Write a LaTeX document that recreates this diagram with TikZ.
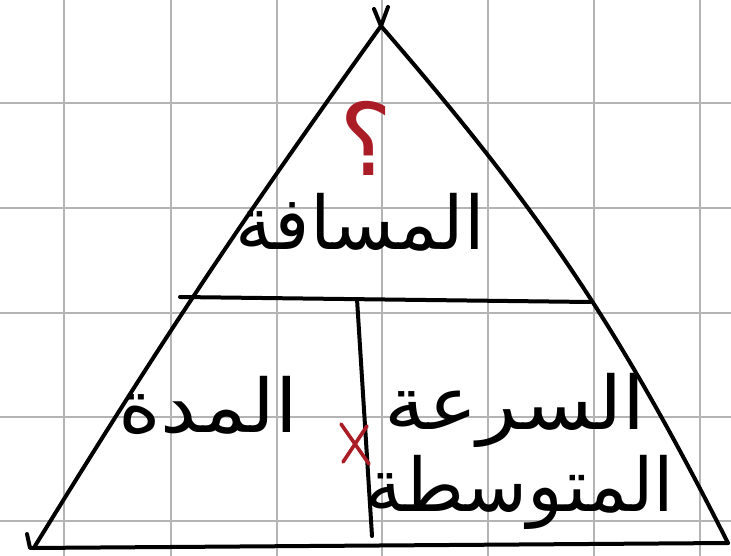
\documentclass[tikz,border=0pt]{standalone}
\usepackage{fontspec}
\usepackage{xcolor}
\usepackage{tikz}
\usetikzlibrary{positioning}
\newfontfamily\arabicfont[Script=Arabic]{DejaVu Sans}
\TeXXeTstate=1
\definecolor{inkred}{RGB}{170,28,38}
\definecolor{gridgray}{RGB}{180,180,180}
\tikzstyle{pen} = [line width=4pt, line cap=round, line join=round]
\tikzstyle{redpen} = [line width=3.6pt, line cap=round, inkred]
\tikzstyle{gridline} = [line width=1.5pt, gridgray]
\tikzstyle{word} = [inner sep=0pt, font=\arabicfont\fontsize{74}{80}\selectfont]

\begin{document}
\begin{tikzpicture}[x=1pt, y=-1pt]
% Paper
\fill[white] (0,0) rectangle (731,556);
\useasboundingbox (0,0) rectangle (731,556);
\foreach \x in {64,171,277,382,488,594,700}
  \draw[gridline] (\x,0) -- (\x,556);
\foreach \y in {103,208,313,417,521}
  \draw[gridline] (0,\y) -- (731,\y);

% Triangle
\coordinate (apex) at (381,26);
\coordinate (left) at (35,546);
\coordinate (right) at (728,543);
\draw[pen] (apex) to[bend right=2] (left);
\draw[pen] (apex) to[bend left=7] (right);
\draw[pen] (apex) -- ++(-7,-17);
\draw[pen] (apex) -- ++(7,-19);
\draw[pen] ([shift={(-8,-12)}]left) -- ([shift={(-5,2)}]left) -- (right);

% Dividers
\coordinate (midL) at (180,297);
\coordinate (midR) at (590,302);
\coordinate (stemT) at (357,299);
\coordinate (stemB) at (372,536);
\draw[pen] (midL) -- (midR);
\draw[pen] (stemT) -- (stemB);

% Words
\node (distance) [word] at (360,222) {\beginR المسافة\endR};
\node (duration) [word, xscale=1.1] at (208,405) {\beginR المدة\endR};
\node (speed) [word, xscale=1.12] at (515,410) {\beginR السرعة\endR};
\node (average) [word] at (520,492) {\beginR المتوسطة\endR};

% Marks
\node (unknown) [word, text=inkred, font=\arabicfont\fontsize{100}{100}\selectfont] at (366,138) {\beginR ؟\endR};
\coordinate (cross) at (355,444);
\draw[redpen] ([shift={(-14,-20)}]cross) -- ([shift={(14,20)}]cross);
\draw[redpen] ([shift={(12,-18)}]cross) -- ([shift={(-12,18)}]cross);
\end{tikzpicture}
\end{document}
